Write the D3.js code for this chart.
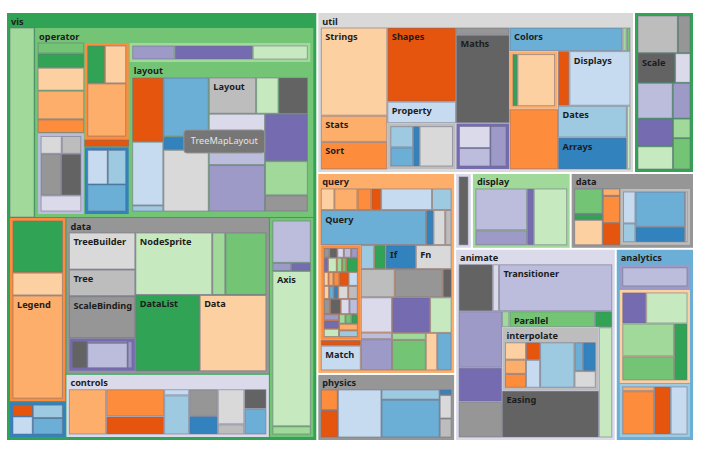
<!DOCTYPE html>
<html><head><meta charset="utf-8">
<script src="https://cdn.jsdelivr.net/npm/d3@7"></script>
<style>
body{margin:0;background:#fff;}
text{font-family:"Noto Sans","Open Sans",sans-serif;}
</style>
</head><body>
<svg id="chart" width="708" height="454"></svg>
<script>
// ---- data (flare class hierarchy, sizes) ----
const cluster = [["AgglomerativeCluster",3938],["CommunityStructure",3812],["HierarchicalCluster",6714],["MergeEdge",743]];
const graph = [["BetweennessCentrality",3534],["LinkDistance",5731],["MaxFlowMinCut",7840],["ShortestPaths",5914],["SpanningTree",3416]];
const optimization = [["AspectRatioBanker",7074]];
const analytics = [["cluster",cluster],["graph",graph],["optimization",optimization]];

const interpolate = [["ArrayInterpolator",1983],["ColorInterpolator",2047],["DateInterpolator",1375],["Interpolator",8746],["MatrixInterpolator",2202],["NumberInterpolator",1382],["ObjectInterpolator",1629],["PointInterpolator",1675],["RectangleInterpolator",2042]];
const animate = [["Easing",17010],["FunctionSequence",5842],["interpolate",interpolate],["ISchedulable",1041],["Parallel",5176],["Pause",449],["Scheduler",5593],["Sequence",5534],["Transition",9201],["Transitioner",19975],["TransitionEvent",1116],["Tween",6006]];

const converters = [["Converters",721],["DelimitedTextConverter",4294],["GraphMLConverter",9800],["IDataConverter",1314],["JSONConverter",2220]];
const dataPkg = [["converters",converters],["DataField",1759],["DataSchema",2165],["DataSet",586],["DataSource",3331],["DataTable",772],["DataUtil",3322]];

const display = [["DirtySprite",8833],["LineSprite",1732],["RectSprite",3623],["TextSprite",10066]];
const flex = [["FlareVis",4116]];
const physics = [["DragForce",1082],["GravityForce",1336],["IForce",319],["NBodyForce",10498],["Particle",2822],["Simulation",9983],["Spring",2213],["SpringForce",1681]];

const methods = [["add",593],["and",330],["average",287],["count",277],["distinct",292],["div",595],["eq",594],["fn",460],["gt",603],["gte",625],["iff",748],["isa",461],["lt",597],["lte",619],["max",283],["min",283],["mod",591],["mul",603],["neq",599],["not",386],["or",323],["orderby",307],["range",772],["select",296],["stddev",363],["sub",600],["sum",280],["update",307],["variance",335],["where",299],["xor",354],["_",264]];
const query = [["AggregateExpression",1616],["And",1027],["Arithmetic",3891],["Average",891],["BinaryExpression",2893],["Comparison",5103],["CompositeExpression",3677],["Count",781],["DateUtil",4141],["Distinct",933],["Expression",5130],["ExpressionIterator",3617],["Fn",3240],["If",2732],["IsA",2039],["Literal",1214],["Match",3748],["Maximum",843],["methods",methods],["Minimum",843],["Not",1554],["Or",970],["Query",13896],["Range",1594],["StringUtil",4130],["Sum",791],["Variable",1124],["Variance",1876],["Xor",1101]];

const scalePkg = [["IScaleMap",2105],["LinearScale",1316],["LogScale",3151],["OrdinalScale",3770],["QuantileScale",2435],["QuantitativeScale",4839],["RootScale",1756],["Scale",4268],["ScaleType",1821],["TimeScale",5833]];

const heap = [["FibonacciHeap",9354],["HeapNode",1233]];
const math = [["DenseMatrix",3165],["IMatrix",2815],["SparseMatrix",3366]];
const palette = [["ColorPalette",6367],["Palette",1229],["ShapePalette",2059],["SizePalette",2291]];
const util = [["Arrays",8258],["Colors",10001],["Dates",8217],["Displays",12555],["Filter",2324],["Geometry",10993],["heap",heap],["IEvaluable",335],["IPredicate",383],["IValueProxy",874],["math",math],["Maths",17705],["Orientation",1486],["palette",palette],["Property",5559],["Shapes",19118],["Sort",6887],["Stats",6557],["Strings",22026]];

const axis = [["Axes",1302],["Axis",24593],["AxisGridLine",652],["AxisLabel",636],["CartesianAxes",6703]];
const controls = [["AnchorControl",2138],["ClickControl",3824],["Control",1353],["ControlList",4665],["DragControl",2649],["ExpandControl",2832],["HoverControl",4896],["IControl",763],["PanZoomControl",5222],["SelectionControl",7862],["TooltipControl",8435]];
const render = [["ArrowType",698],["EdgeRenderer",5569],["IRenderer",353],["ShapeRenderer",2247]];
const visData = [["Data",20544],["DataList",19788],["DataSprite",10349],["EdgeSprite",3301],["NodeSprite",19382],["render",render],["ScaleBinding",11275],["Tree",7147],["TreeBuilder",9930]];
const events = [["DataEvent",2313],["SelectionEvent",1880],["TooltipEvent",1701],["VisualizationEvent",1117]];
const legend = [["Legend",20859],["LegendItem",4614],["LegendRange",10530]];
const distortion = [["BifocalDistortion",4461],["Distortion",6314],["FisheyeDistortion",3444]];
const encoder = [["ColorEncoder",3179],["Encoder",4060],["PropertyEncoder",4138],["ShapeEncoder",1690],["SizeEncoder",1830]];
const filterPkg = [["FisheyeTreeFilter",5219],["GraphDistanceFilter",3165],["VisibilityFilter",3509]];
const label = [["Labeler",9956],["RadialLabeler",3899],["StackedAreaLabeler",3202]];
const layout = [["AxisLayout",6725],["BundledEdgeRouter",3727],["CircleLayout",9317],["CirclePackingLayout",12003],["DendrogramLayout",4853],["ForceDirectedLayout",8411],["IcicleTreeLayout",4864],["IndentedTreeLayout",3174],["Layout",7881],["NodeLinkTreeLayout",12870],["PieLayout",2728],["RadialTreeLayout",12348],["RandomLayout",870],["StackedAreaLayout",9121],["TreeMapLayout",9191]];
const operator = [["distortion",distortion],["encoder",encoder],["filter",filterPkg],["IOperator",1286],["label",label],["layout",layout],["Operator",2490],["OperatorList",5248],["OperatorSequence",4190],["OperatorSwitch",2581],["SortOperator",2023]];
const vis = [["axis",axis],["controls",controls],["data",visData],["events",events],["legend",legend],["operator",operator],["Visualization",16540]];

const flare = [["analytics",analytics],["animate",animate],["data",dataPkg],["display",display],["flex",flex],["physics",physics],["query",query],["scale",scalePkg],["util",util],["vis",vis]];

const hoveredName = "TreeMapLayout";
const category20c = ["#3182bd","#6baed6","#9ecae1","#c6dbef","#e6550d","#fd8d3c","#fdae6b","#fdd0a2","#31a354","#74c476","#a1d99b","#c7e9c0","#756bb1","#9e9ac8","#bcbddc","#dadaeb","#636363","#969696","#bdbdbd","#d9d9d9"];

// ---- hierarchy ----
function build(name, entries) {
  return {name, children: entries.map(([n, v]) => Array.isArray(v) ? build(n, v) : {name: n, value: v})};
}
const root = d3.hierarchy(build("flare", flare)).sum(d => d.value || 0);

const color = d3.scaleOrdinal(category20c);
root.eachBefore(d => color(d.data.name));

// sibling order used by the tiling (legacy unstable sort, then reversed)
function tileOrder(arr) {
  const a = arr.slice(), n = a.length;
  if (n > 10) {
    const mid = n >> 1, a0 = a[0], a1 = a[1], am = a[mid];
    a[0] = am; a[1] = a0; a[mid] = a1;
  }
  return a.reverse();
}
root.each(d => { if (d.children) d.children = tileOrder(d.children); });

const W = 686, H = 427, OX = 7, OY = 13;
d3.treemap()
  .tile(d3.treemapSquarify)
  .size([W, H])
  .paddingInner(d => d.depth === 0 ? 2 : 1)
  .paddingTop(d => {
    if (d.depth === 0) return 0;
    d.header = (d.x1 - d.x0) >= 75 && (d.y1 - d.y0) >= 40;
    return d.header ? 15 : 3;
  })
  .paddingRight(d => d.depth === 0 ? 0 : 3)
  .paddingBottom(d => d.depth === 0 ? 0 : 3)
  .paddingLeft(d => d.depth === 0 ? 0 : 3)
  (root);

const svg = d3.select("#chart");
const g = svg.append("g").attr("transform", `translate(${OX},${OY})`);

const nodes = root.descendants().filter(d => d.depth > 0);
const cell = g.selectAll("g.node").data(nodes).join("g")
  .attr("class", "node")
  .attr("transform", d => `translate(${d.x0},${d.y0})`);

cell.append("rect")
  .attr("width", d => Math.max(0, d.x1 - d.x0))
  .attr("height", d => Math.max(0, d.y1 - d.y0))
  .attr("fill", d => color(d.data.name))
  .attr("stroke", d => d.children ? "none" : "rgba(110,110,130,0.55)")
  .attr("stroke-width", 1);

cell.filter(d => d.children && d.header).append("text")
  .attr("x", 4).attr("y", 11.5)
  .attr("font-size", 9.2).attr("font-weight", 700)
  .attr("fill", "#1c1c1c")
  .text(d => d.data.name);

cell.filter(d => !d.children).append("text")
  .attr("x", 4).attr("y", 12)
  .attr("font-size", 9.2).attr("font-weight", 700)
  .attr("fill", "#1c1c1c")
  .text(d => d.data.name)
  .each(function(d) {
    const w = this.getComputedTextLength();
    if (w + 6 >= d.x1 - d.x0 || d.y1 - d.y0 < 14) d3.select(this).remove();
  });

// hover tooltip
const hov = root.leaves().find(d => d.data.name === hoveredName);
if (hov) {
  const tip = g.append("g").attr("transform", `translate(${hov.x1 + 21},${hov.y0 + 52})`);
  const t = tip.append("text").attr("x", 7).attr("y", 14.5)
    .attr("font-size", 9.2).attr("fill", "#e4e4e4").text(hov.data.name);
  const tw = t.node().getComputedTextLength();
  tip.insert("rect", "text").attr("width", tw + 14).attr("height", 23).attr("rx", 3)
    .attr("fill", "#767676").attr("stroke", "#959595").attr("stroke-width", 1);
}
</script>
</body></html>
